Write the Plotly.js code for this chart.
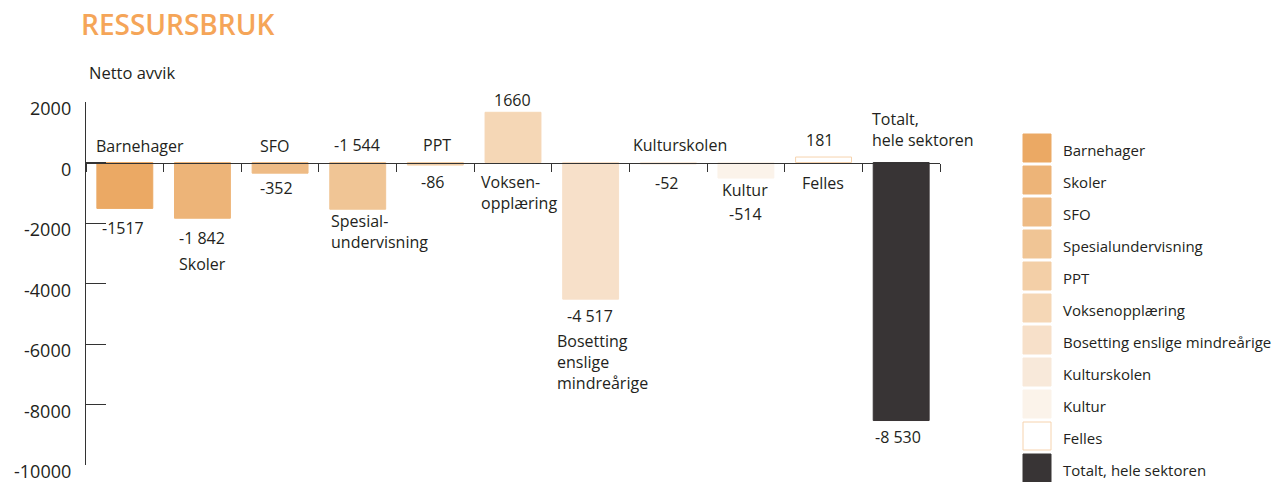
<!DOCTYPE html>
<html>
<head>
<meta charset="utf-8">
<script src="https://cdn.plot.ly/plotly-3.0.1.min.js"></script>
<style>html,body{margin:0;padding:0;background:#fff;}#chart{width:1272px;height:482px;}</style>
</head>
<body>
<div id="chart"></div>
<script>
// ---- data ----
const categories = ["Barnehager","Skoler","SFO","Spesialundervisning","PPT","Voksenopplæring","Bosetting enslige mindreårige","Kulturskolen","Kultur","Felles","Totalt, hele sektoren"];
const values = [-1517, -1842, -352, -1544, -86, 1660, -4517, -52, -514, 181, -8530];
const valueLabels = ["-1517","-1 842","-352","-1 544","-86","1660","-4 517","-52","-514","181","-8 530"];
const barNameLabels = ["Barnehager","Skoler","SFO","Spesial-<br>undervisning","PPT","Voksen-<br>opplæring","Bosetting<br>enslige<br>mindreårige","Kulturskolen","Kultur","Felles","Totalt,<br>hele sektoren"];
const yTickVals = [2000, 0, -2000, -4000, -6000, -8000, -10000];
const yTickText = ["2000","0","-2000","-4000","-6000","-8000","-10000"];

// ---- styles ----
const colors = ["#EBA964","#EDB478","#EEBB85","#F0C595","#F3CFA7","#F5D7B6","#F7E0C9","#F8E9DA","#FBF3EA","#FFFFFF","#383435"];
const lineColors = ["#EBA964","#EDB478","#EEBB85","#F0C595","#F3CFA7","#F5D7B6","#F7E0C9","#F8E9DA","#FBF3EA","#F6D3AE","#383435"];
const textColor = "#231F20";
const FONT = "Open Sans, Noto Sans, sans-serif";

// plot geometry (pixels)
const L = 86, R = 940, T = 102, B = 465, W = 1272, H = 482;
const catW = (R - L) / categories.length;
const px2x = px => (px - L) / catW - 0.5;
const pxp = px => (px - L) / (R - L);
const pyp = py => (B - py) / (B - T);

// label placements [centerX px, centerY px, align]
const namePos = [[140,146,"c"],[202,264,"c"],[274,146,"c"],[329,232,"l"],[437,145,"c"],[479,192,"l"],[555,362,"l"],[680,145,"c"],[745,190,"c"],[823,183,"c"],[870,129,"l"]];
const valPos = [[123,228],[202,238],[276,188],[357,145],[432,182],[512,100],[590,316],[666,183],[745,214],[819,140],[898,437]];

const annotations = [];
categories.forEach((c, i) => {
  const np = namePos[i];
  annotations.push({
    xref: "x", yref: "paper", x: px2x(np[0]), y: pyp(np[1]),
    text: barNameLabels[i], showarrow: false,
    xanchor: np[2] === "l" ? "left" : "center", yanchor: "middle",
    align: np[2] === "l" ? "left" : "center",
    font: {family: FONT, size: 16, color: textColor}
  });
  const vp = valPos[i];
  annotations.push({
    xref: "x", yref: "paper", x: px2x(vp[0]), y: pyp(vp[1]),
    text: valueLabels[i], showarrow: false, xanchor: "center", yanchor: "middle",
    font: {family: FONT, size: 16, color: textColor}
  });
});
// y tick labels (drawn slightly below their ticks, as in the original)
yTickVals.forEach((v, i) => {
  annotations.push({xref: "paper", yref: "y", x: pxp(73), y: v, yshift: -6,
    text: yTickText[i], showarrow: false, xanchor: "right", yanchor: "middle",
    font: {family: FONT, size: 18, color: textColor}});
});
// y axis title
annotations.push({xref: "paper", yref: "paper", x: pxp(87), y: pyp(73), text: "Netto avvik",
  showarrow: false, xanchor: "left", yanchor: "middle", font: {family: FONT, size: 16.5, color: textColor}});

// legend (swatches + labels)
const shapes = [];
const legX = 1023, legY0 = 134, legStep = 32, sw = 28;
categories.forEach((c, i) => {
  const y0 = legY0 + i * legStep;
  shapes.push({type: "rect", xref: "paper", yref: "paper",
    x0: pxp(legX), x1: pxp(legX + sw), y0: pyp(y0 + sw), y1: pyp(y0),
    fillcolor: colors[i], line: {color: lineColors[i], width: 1}});
  annotations.push({xref: "paper", yref: "paper", x: pxp(legX + 38), y: pyp(y0 + sw / 2 + 2),
    text: c, showarrow: false, xanchor: "left", yanchor: "middle",
    font: {family: FONT, size: 15, color: textColor}});
});

const trace = {
  type: "bar", x: categories, y: values, width: 0.72,
  marker: {color: colors, line: {color: lineColors, width: 1}},
  hoverinfo: "x+y", showlegend: false
};

const layout = {
  width: W, height: H,
  margin: {l: L, r: W - R, t: T, b: H - B, pad: 0},
  paper_bgcolor: "#fff", plot_bgcolor: "#fff",
  showlegend: false,
  title: {text: "RESSURSBRUK", xref: "container", yref: "container", x: 81 / W, xanchor: "left",
    y: 1 - 25 / H, yanchor: "middle",
    font: {family: FONT, size: 28, weight: 600, color: "#F5A558"}},
  xaxis: {type: "category", range: [-0.5, categories.length - 0.5], anchor: "free",
    position: 10000 / 12000, showline: true, linecolor: "#333", linewidth: 1,
    ticks: "outside", tickson: "boundaries", ticklen: 8, tickcolor: "#333",
    showticklabels: false, showgrid: false, zeroline: false, fixedrange: true},
  yaxis: {range: [-10000, 2000], showline: true, linecolor: "#333", linewidth: 1,
    ticks: "inside", ticklen: 20, tickcolor: "#333", tickvals: yTickVals,
    showticklabels: false, showgrid: false, zeroline: false, fixedrange: true},
  annotations: annotations,
  shapes: shapes
};

Plotly.newPlot("chart", [trace], layout, {displayModeBar: false, staticPlot: true});
</script>
</body>
</html>
